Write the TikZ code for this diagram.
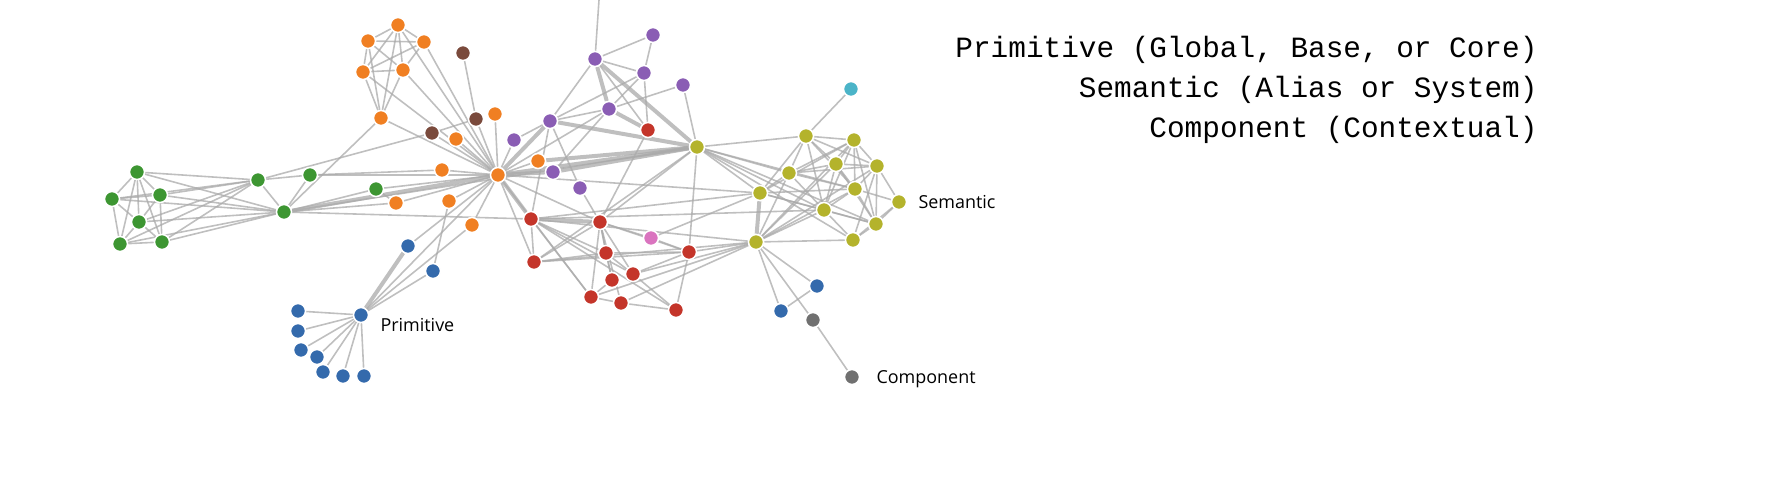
\documentclass[tikz,border=0pt]{standalone}
\usepackage{fontspec}
\setmainfont{Open Sans}
\newfontfamily\legfont{Liberation Mono}
\usetikzlibrary{backgrounds}
\definecolor{cG}{HTML}{3D9632}\definecolor{cO}{HTML}{F07F22}\definecolor{cB}{HTML}{7A4A3C}
\definecolor{cP}{HTML}{8A5DB4}\definecolor{cR}{HTML}{C4352A}\definecolor{cK}{HTML}{DA74BF}
\definecolor{cY}{HTML}{B4B32C}\definecolor{cC}{HTML}{4BB4C8}\definecolor{cL}{HTML}{346AAC}
\definecolor{cX}{HTML}{707070}\definecolor{edgec}{HTML}{AAAAAA}
\tikzset{v/.style={circle,draw=white,line width=1.5bp,minimum size=15bp,inner sep=0pt},
 e/.style={draw=edgec,opacity=0.75,line width=1.6bp},
 ee/.style={draw=edgec,opacity=0.75,line width=4bp},
 lab/.style={anchor=west,font=\fontsize{18}{20}\selectfont},
 leg/.style={anchor=east,font=\legfont\fontsize{29.5}{31}\selectfont}}
\begin{document}
\begin{tikzpicture}[x=1bp,y=-1bp]
\useasboundingbox (0,0) rectangle (1792,480);
\foreach \n/\x/\y/\c in {g1/137/172/cG,g2/112/199/cG,g3/160/195/cG,g4/139/222/cG,g5/120/244/cG,g6/162/242/cG,g7/258/180/cG,g8/284/212/cG,g9/310/175/cG,g10/376/189/cG,
o1/398/25/cO,o2/368/41/cO,o3/424/42/cO,o4/363/72/cO,o5/403/70/cO,o6/381/118/cO,o7/456/139/cO,o8/495/114/cO,o9/442/170/cO,o10/396/203/cO,o11/449/201/cO,o12/472/225/cO,o13/498/175/cO,o14/538/161/cO,
b1/463/53/cB,b2/476/119/cB,b3/432/133/cB,
p1/595/59/cP,p2/653/35/cP,p3/644/73/cP,p4/683/85/cP,p5/609/109/cP,p6/550/121/cP,p7/514/140/cP,p8/553/172/cP,p9/580/188/cP,
r1/648/130/cR,r2/531/219/cR,r3/600/222/cR,r4/534/262/cR,r5/606/253/cR,r6/689/252/cR,r7/633/274/cR,r8/612/280/cR,r9/591/297/cR,r10/621/303/cR,r11/676/310/cR,
pk/651/238/cK,
y1/697/147/cY,y2/806/136/cY,y3/854/140/cY,y4/789/173/cY,y5/836/164/cY,y6/877/166/cY,y7/760/193/cY,y8/855/189/cY,y9/824/210/cY,y10/899/202/cY,y11/876/224/cY,y12/853/240/cY,y13/756/242/cY,
c1/851/89/cC,
bl1/408/246/cL,bl2/433/271/cL,bl3/361/315/cL,bl4/298/311/cL,bl5/298/331/cL,bl6/301/350/cL,bl7/317/357/cL,bl8/323/372/cL,bl9/343/376/cL,bl10/364/376/cL,bl11/817/286/cL,bl12/781/311/cL,
gr1/813/320/cX,gr2/852/377/cX}
 \node[v,fill=\c] (\n) at (\x,\y) {};
\coordinate (top) at (599,0);
\begin{pgfonlayer}{background}
\foreach \a/\b in {g1/g2,g1/g3,g1/g4,g1/g5,g1/g6,g2/g3,g2/g4,g2/g5,g3/g4,g3/g6,g4/g5,g4/g6,g5/g6,g1/g7,g1/g8,g2/g7,g2/g8,g3/g7,g3/g8,g4/g7,g4/g8,g5/g7,g5/g8,g6/g7,g6/g8,g7/g8,g7/g9,g8/g9,g8/g10,g8/o10,g8/r2,g8/o6,g8/y1,g9/o9,g9/o13,g10/o13,g7/b3,g10/o10,
o1/o2,o1/o3,o1/o4,o1/o5,o1/o6,o2/o3,o2/o4,o2/o5,o3/o4,o3/o5,o4/o5,o2/o6,o4/o6,o5/o6,o3/o13,o5/o13,o1/o13,o6/o13,b1/b2,b2/b3,b2/o13,b3/o13,o7/o13,o8/o13,o9/o13,o10/o13,o11/o13,o12/o13,o14/o13,o13/p7,o13/r3,o13/r4,o13/bl1,o13/r9,o12/bl3,o11/bl2,o13/p5,o4/o13,
p1/p2,p1/p3,p1/p6,p1/r1,p2/p3,p3/r1,p3/p5,p3/p6,p4/p5,p4/y1,p5/p6,p5/p8,p6/r2,p6/p9,p9/r3,r1/r3,y1/r6,y1/r4,y1/y2,y1/y7,y1/y9,y1/y11,y1/y8,y1/y4,y1/r3,y1/y12,p1/top,p6/p7,
r2/r4,r2/r5,r2/r9,r2/r7,r2/r11,r3/r4,r3/r5,r3/r7,r3/r8,r3/r10,r3/r9,r3/r6,r4/r5,r4/r6,r5/r6,r5/r7,r5/r8,r7/r6,r7/r11,r8/r9,r9/r10,r10/r11,r9/y13,r10/y13,r7/y13,r6/y13,r6/r11,r3/pk,pk/r6,pk/y7,r2/y13,r2/y7,r2/y9,r4/y13,
y2/y3,y2/y4,y2/y5,y2/y7,y2/y8,y2/y9,y2/y6,y2/c1,y3/y4,y3/y5,y3/y6,y3/y7,y3/y8,y3/y9,y3/y11,y3/y13,y4/y5,y4/y7,y4/y8,y4/y9,y4/y13,y4/y6,y5/y6,y5/y8,y5/y9,y5/y11,y5/y13,y6/y8,y6/y10,y6/y11,y6/y12,y7/y9,y7/y8,y7/y11,y8/y9,y8/y10,y8/y11,y9/y11,y9/y12,y9/y13,y10/y11,y10/y12,y11/y12,y12/y13,y13/y8,y13/y6,y13/bl11,y13/bl12,y13/gr1,bl11/bl12,gr1/gr2,y7/o13,
bl3/bl4,bl3/bl5,bl3/bl6,bl3/bl7,bl3/bl8,bl3/bl9,bl3/bl10,bl3/bl2,bl3/o13}
 \draw[e] (\a) -- (\b);
\foreach \a/\b in {o13/p6,o13/y1,o13/r2,o14/y1,p1/p5,p1/y1,p5/r1,p6/y1,p8/y1,r2/r3,y7/y13,bl3/bl1,o13/p8,g8/o13}
 \draw[ee] (\a) -- (\b);
\end{pgfonlayer}
\node[lab] (ls) at (915,202) {Semantic};
\node[lab] (lp) at (377,325) {Primitive};
\node[lab] (lc) at (873,379) {Component};
\node[leg] (t1) at (1541,50) {Primitive (Global, Base, or Core)};
\node[leg] (t2) at (1541,90) {Semantic (Alias or System)};
\node[leg] (t3) at (1541,130) {Component (Contextual)};
\end{tikzpicture}
\end{document}
